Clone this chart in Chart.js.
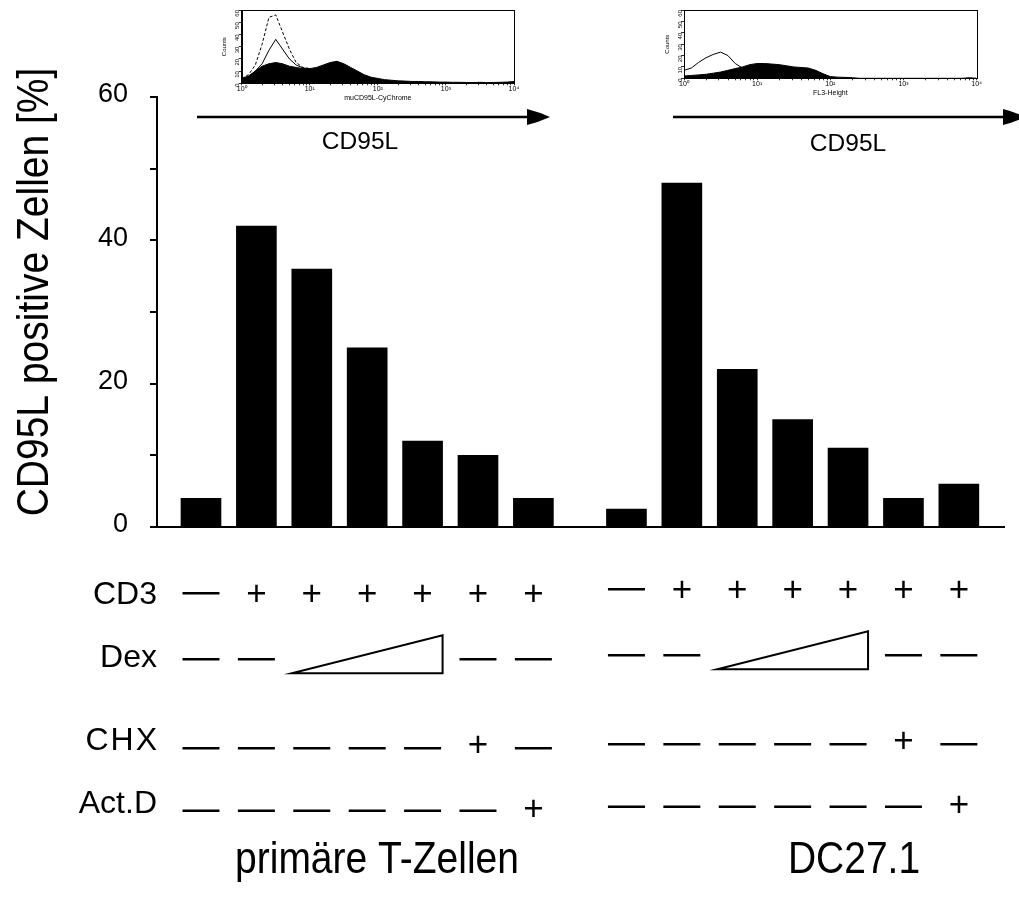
<!DOCTYPE html>
<html><head><meta charset="utf-8">
<script src="https://cdn.jsdelivr.net/npm/chart.js@4.4.1/dist/chart.umd.min.js"></script>
<style>
html,body{margin:0;padding:0;background:#fff;}
#wrap{position:relative;width:1019px;height:902px;overflow:hidden;background:#fff;}
#wrap canvas{position:absolute;}
</style></head><body>
<div id="wrap">
<canvas id="main" width="1019" height="902" style="left:0;top:0"></canvas>
<canvas id="inset1" width="320" height="112" style="left:210px;top:0"></canvas>
<canvas id="inset2" width="360" height="112" style="left:650px;top:0"></canvas>
</div>
<script>
// ---------------- data ----------------
const groups = ['primäre T-Zellen', 'DC27.1'];
const conditions = ['unbehandelt', 'CD3', 'CD3 + Dex niedrig', 'CD3 + Dex mittel', 'CD3 + Dex hoch', 'CD3 + CHX', 'CD3 + Act.D'];
const primaryTCells = [4, 42, 36, 25, 12, 10, 4];
const dc271 = [2.5, 48, 22, 15, 11, 4, 6];
const yTickLabels = [0, 20, 40, 60];
const yAxisTitle = 'CD95L positive Zellen [%]';
const rowLabels = ['CD3', 'Dex', 'CHX', 'Act.D'];
const cd3Row  = ['-', '+', '+', '+', '+', '+', '+'];
const dexRow  = ['-', '-', 'ramp', 'ramp', 'ramp', '-', '-'];
const chxRow  = ['-', '-', '-', '-', '-', '+', '-'];
const actdRow = ['-', '-', '-', '-', '-', '-', '+'];
const markerLabel = 'CD95L';

// flow cytometry insets (x in log10 units, y in counts)
const flowBins = [0,0.1,0.2,0.3,0.4,0.5,0.6,0.7,0.8,0.9,1.0,1.1,1.2,1.3,1.4,1.5,1.6,1.7,1.8,1.9,2.0,2.1,2.2,2.3,2.4,2.5,2.6,2.7,2.8,2.9,3.0,3.1,3.2,3.3,3.4,3.5,3.6,3.7,3.8,3.9,4.0];
const flow1Stim = [4,6,10,14,16,17,16,14,13,12,12,13,15,17,18,16,13,10,7,5,4,3,2.5,2,1.8,1.5,1.5,1.3,1.2,1,1,0.8,0.8,0.7,0.6,0.8,0.6,0.7,0.8,1,1.5];
const flow1Ctrl = [3,5,10,16,27,36,28,20,15,12.5,12];
const flow1Iso  = [4,7,15,32,54,56,42,28,17,13,12];
const flow2Stim = [2,2.5,3,3.5,4.5,5.5,7,8.5,10,12,13,13,12.5,12,11,10,9.5,9,7,4,1.5,1,0.8,0.5,0,0,0,0,0,0,0,0,0,0,0,0,0,0,0,0.5,0];
const flow2Ctrl = [7,9,14,18,21,23,20,13,9,10,11];
const flowXTickLabels = ['10\u2070','10\u00B9','10\u00B2','10\u00B3','10\u2074'];
const flowXTitles = ['muCD95L-CyChrome', 'FL3-Height'];
const flowYTitle = 'Counts';

// ---------------- layout constants ----------------
const FONT = "'Liberation Sans', Arial, Helvetica, sans-serif";
Chart.defaults.font.family = FONT;
Chart.defaults.color = '#000';
const GROUP2_OFFSET = 7.68;   // slot offset of second group on the x scale
const X_MIN = -0.794, X_MAX = 14.495;
const G2_DY = -4;

const rowsLayout = [
  {values: cd3Row,  labelBase: 604,   dashY: 593.3, plusY: 592.7},
  {values: dexRow,  labelBase: 666.7, dashY: 659.3, triBase: 673.3, triTop: 635.3},
  {values: chxRow,  labelBase: 750,   dashY: 748.3, plusY: 744, spacing: 2},
  {values: actdRow, labelBase: 813.3, dashY: 810.7, plusY: 808}
];

const annotations = {
  id: 'annotations',
  afterDraw(chart) {
    const ctx = chart.ctx;
    const xs = chart.scales.x;
    ctx.save();
    ctx.fillStyle = '#000';
    ctx.strokeStyle = '#000';

    // y axis title
    ctx.save();
    ctx.translate(48, 292);
    ctx.rotate(-Math.PI / 2);
    ctx.scale(1, 1.15);
    ctx.font = '39px ' + FONT;
    ctx.textAlign = 'center';
    ctx.textBaseline = 'alphabetic';
    ctx.fillText(yAxisTitle, 0, 0);
    ctx.restore();

    // treatment rows
    rowsLayout.forEach((row, r) => {
      ctx.save();
      ctx.font = '32px ' + FONT;
      ctx.textAlign = 'right';
      ctx.textBaseline = 'alphabetic';
      if (row.spacing) ctx.letterSpacing = row.spacing + 'px';
      ctx.fillText(rowLabels[r], 157 + (row.spacing || 0), row.labelBase);
      ctx.restore();
      [0, 1].forEach(g => {
        const off = g === 0 ? 0 : GROUP2_OFFSET;
        const dy = g === 0 ? 0 : G2_DY;
        let rampStart = null, rampEnd = null;
        row.values.forEach((v, i) => {
          const xc = xs.getPixelForValue(i + off);
          if (v === '-') {
            ctx.lineWidth = 2.5;
            ctx.beginPath();
            ctx.moveTo(xc - 18.5, row.dashY + dy);
            ctx.lineTo(xc + 18.5, row.dashY + dy);
            ctx.stroke();
          } else if (v === '+') {
            ctx.font = '35px ' + FONT;
            ctx.textAlign = 'center';
            ctx.textBaseline = 'alphabetic';
            ctx.fillText('+', xc, row.plusY + dy + 12.4);
          } else if (v === 'ramp') {
            if (rampStart === null) rampStart = xc;
            rampEnd = xc;
          }
        });
        if (rampStart !== null) {
          const l = rampStart - 20, rr = rampEnd + 20;
          ctx.lineWidth = 2;
          ctx.fillStyle = '#fff';
          ctx.beginPath();
          ctx.moveTo(l, row.triBase + dy);
          ctx.lineTo(rr, row.triBase + dy);
          ctx.lineTo(rr, row.triTop + dy);
          ctx.closePath();
          ctx.fill();
          ctx.stroke();
          ctx.fillStyle = '#000';
        }
      });
    });

    // group labels
    const groupLabelX = [377, 854];
    groups.forEach((gname, g) => {
      ctx.save();
      ctx.translate(groupLabelX[g], 873);
      ctx.scale(1, 1.15);
      ctx.font = '39px ' + FONT;
      ctx.textAlign = 'center';
      ctx.textBaseline = 'alphabetic';
      ctx.fillText(gname, 0, 0);
      ctx.restore();
    });

    // arrows and CD95L labels above
    const arrows = [
      {x0: 197, x1: 527, tip: 550, y: 117, labelX: 360, labelBase: 148.5},
      {x0: 673, x1: 1003, tip: 1025, y: 117, labelX: 848, labelBase: 151}
    ];
    arrows.forEach(a => {
      ctx.lineWidth = 2.5;
      ctx.beginPath();
      ctx.moveTo(a.x0, a.y);
      ctx.lineTo(a.x1 + 2, a.y);
      ctx.stroke();
      ctx.beginPath();
      ctx.moveTo(a.x1, a.y - 8);
      ctx.quadraticCurveTo(a.x1 + 12, a.y - 5, a.tip, a.y);
      ctx.quadraticCurveTo(a.x1 + 12, a.y + 5, a.x1, a.y + 8);
      ctx.closePath();
      ctx.fill();
      ctx.font = '24.5px ' + FONT;
      ctx.textAlign = 'center';
      ctx.textBaseline = 'alphabetic';
      ctx.fillText(markerLabel, a.labelX, a.labelBase);
    });
    ctx.restore();
  }
};

new Chart(document.getElementById('main'), {
  type: 'bar',
  data: {
    datasets: [
      {label: groups[0], data: primaryTCells.map((v, i) => ({x: i, y: v})),
       backgroundColor: '#000', borderWidth: 0, barThickness: 40, grouped: false},
      {label: groups[1], data: dc271.map((v, i) => ({x: i + GROUP2_OFFSET, y: v})),
       backgroundColor: '#000', borderWidth: 0, barThickness: 40, grouped: false}
    ]
  },
  options: {
    responsive: false, animation: false, devicePixelRatio: 1,
    layout: {padding: {left: 0, right: 15, top: 97, bottom: 375}},
    plugins: {legend: {display: false}, tooltip: {enabled: false}, title: {display: false}},
    scales: {
      x: {type: 'linear', min: X_MIN, max: X_MAX, offset: false,
          grid: {display: false}, ticks: {display: false},
          border: {display: true, color: '#000', width: 2},
          afterFit: s => { s.height = 0; }},
      y: {min: 0, max: 60,
          ticks: {stepSize: 10, autoSkip: false,
                  callback: v => yTickLabels.includes(v) ? String(v) : '',
                  font: {size: 27}, color: '#000', padding: 22, labelOffset: -2},
          grid: {drawOnChartArea: false, drawTicks: true, tickLength: 7, color: '#000', lineWidth: 2},
          border: {display: true, color: '#000', width: 2},
          afterFit: s => { s.width = 157; }}
    }
  },
  plugins: [annotations]
});

// ---------------- insets ----------------
const frame = {
  id: 'frame',
  afterDatasetsDraw(chart) {
    const a = chart.chartArea, ctx = chart.ctx;
    ctx.save();
    ctx.strokeStyle = '#000';
    ctx.lineWidth = 1;
    ctx.strokeRect(Math.round(a.left) + 0.5, Math.round(a.top) + 0.5, Math.round(a.right - a.left), Math.round(a.bottom - a.top));
    ctx.restore();
  }
};
const flowTicks = [];
for (let n = 0; n <= 4; n++) {
  flowTicks.push(n);
  if (n < 4) for (let k = 2; k <= 9; k++) flowTicks.push(n + Math.log10(k));
}
function makeInset(id, stim, ctrl, iso, xTitle, yw, xh, padding) {
  const datasets = [];
  if (iso) datasets.push({data: iso.map((v, i) => ({x: flowBins[i], y: v})), borderColor: '#000', borderWidth: 1, borderDash: [3, 2], pointRadius: 0, fill: false});
  datasets.push({data: ctrl.map((v, i) => ({x: flowBins[i], y: v})), borderColor: '#000', borderWidth: 1, pointRadius: 0, fill: false});
  datasets.push({data: stim.map((v, i) => ({x: flowBins[i], y: v})), borderColor: '#000', backgroundColor: '#000', borderWidth: 1, pointRadius: 0, fill: 'origin'});
  new Chart(document.getElementById(id), {
    type: 'line',
    data: {datasets},
    options: {
      responsive: false, animation: false, devicePixelRatio: 1,
      layout: {padding},
      plugins: {legend: {display: false}, tooltip: {enabled: false}},
      scales: {
        x: {type: 'linear', min: 0, max: 4,
            afterBuildTicks: s => { s.ticks = flowTicks.map(v => ({value: v})); },
            ticks: {autoSkip: false, maxRotation: 0, minRotation: 0,
                    callback: v => Number.isInteger(v) ? flowXTickLabels[v] : '',
                    font: {size: 7}, color: '#000', padding: 0},
            grid: {drawOnChartArea: false, tickLength: 2, color: '#000', lineWidth: 0.8},
            border: {color: '#000', width: 1},
            title: {display: true, text: xTitle, font: {size: 7}, color: '#000', padding: 0},
            afterFit: s => { s.height = xh; }},
        y: {min: 0, max: 60,
            ticks: {stepSize: 10, minRotation: 90, maxRotation: 90, font: {size: 6}, color: '#000', padding: 1},
            grid: {drawOnChartArea: false, tickLength: 3, color: '#000', lineWidth: 0.8},
            border: {color: '#000', width: 1},
            title: {display: true, text: flowYTitle, font: {size: 6}, color: '#000', padding: 0},
            afterFit: s => { s.width = yw; }}
      }
    },
    plugins: [frame]
  });
}
// inset 1: plot area x 241.7-514, y 10-83.3 (page coords)
makeInset('inset1', flow1Stim, flow1Ctrl, flow1Iso, flowXTitles[0], 20.7, 19, {left: 11, right: 16, top: 10, bottom: 9.7});
// inset 2: plot area x 684-976.7, y 10-78.3 (page coords)
makeInset('inset2', flow2Stim, flow2Ctrl, null, flowXTitles[1], 20.6, 19, {left: 13.4, right: 33.3, top: 10, bottom: 14.7});
</script>
</body></html>
